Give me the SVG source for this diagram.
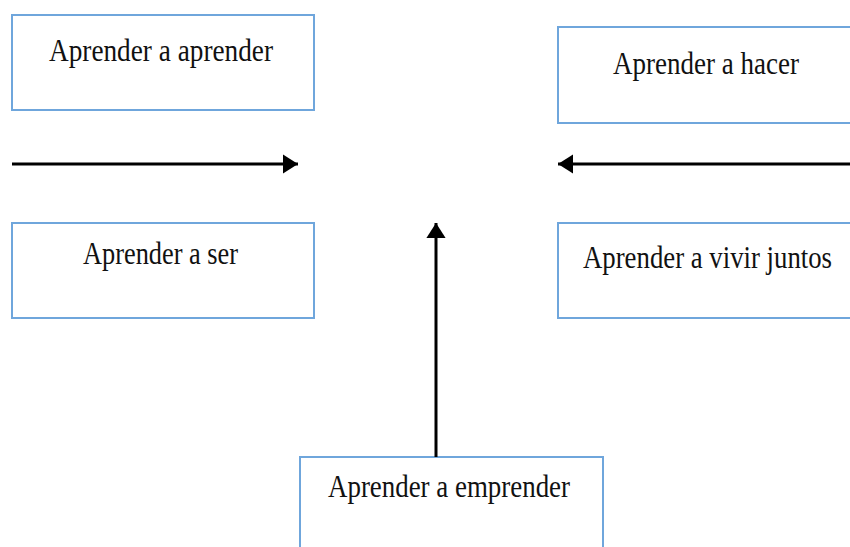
<svg xmlns="http://www.w3.org/2000/svg" width="850" height="547" viewBox="0 0 850 547">
<style>
.box{fill:#fff;stroke:#6fa6dc;stroke-width:2}
.lbl{font-family:"Liberation Serif","Times New Roman",serif;font-size:31px;fill:#111}
.conn{stroke:#000;stroke-width:3;fill:none}
</style>
<defs>
<marker id="ah" markerWidth="5" markerHeight="6.4" refX="5" refY="3.2" orient="auto" markerUnits="strokeWidth">
<path d="M0,0 L5,3.2 L0,6.4 Z" fill="#000"/>
</marker>
</defs>
<rect width="850" height="547" fill="#fff"/>
<g id="n-aprender">
<rect class="box" x="12" y="15" width="302" height="95"/>
<text class="lbl" x="49" y="61" textLength="224" lengthAdjust="spacingAndGlyphs">Aprender a aprender</text>
</g>
<g id="n-hacer">
<rect class="box" x="558" y="27" width="300" height="96"/>
<text class="lbl" x="613" y="74" textLength="186" lengthAdjust="spacingAndGlyphs">Aprender a hacer</text>
</g>
<g id="n-ser">
<rect class="box" x="12" y="223" width="302" height="95"/>
<text class="lbl" x="83" y="264" textLength="155" lengthAdjust="spacingAndGlyphs">Aprender a ser</text>
</g>
<g id="n-vivir">
<rect class="box" x="558" y="223" width="300" height="95"/>
<text class="lbl" x="583" y="268" textLength="249" lengthAdjust="spacingAndGlyphs">Aprender a vivir juntos</text>
</g>
<g id="n-emprender">
<rect class="box" x="300" y="457" width="303" height="100"/>
<text class="lbl" x="328" y="497" textLength="242" lengthAdjust="spacingAndGlyphs">Aprender a emprender</text>
</g>
<g id="connectors">
<line class="conn" x1="12" y1="164" x2="298" y2="164" marker-end="url(#ah)"/>
<line class="conn" x1="852" y1="164" x2="558" y2="164" marker-end="url(#ah)"/>
<line class="conn" x1="436" y1="457" x2="436" y2="223" marker-end="url(#ah)"/>
</g>
</svg>
